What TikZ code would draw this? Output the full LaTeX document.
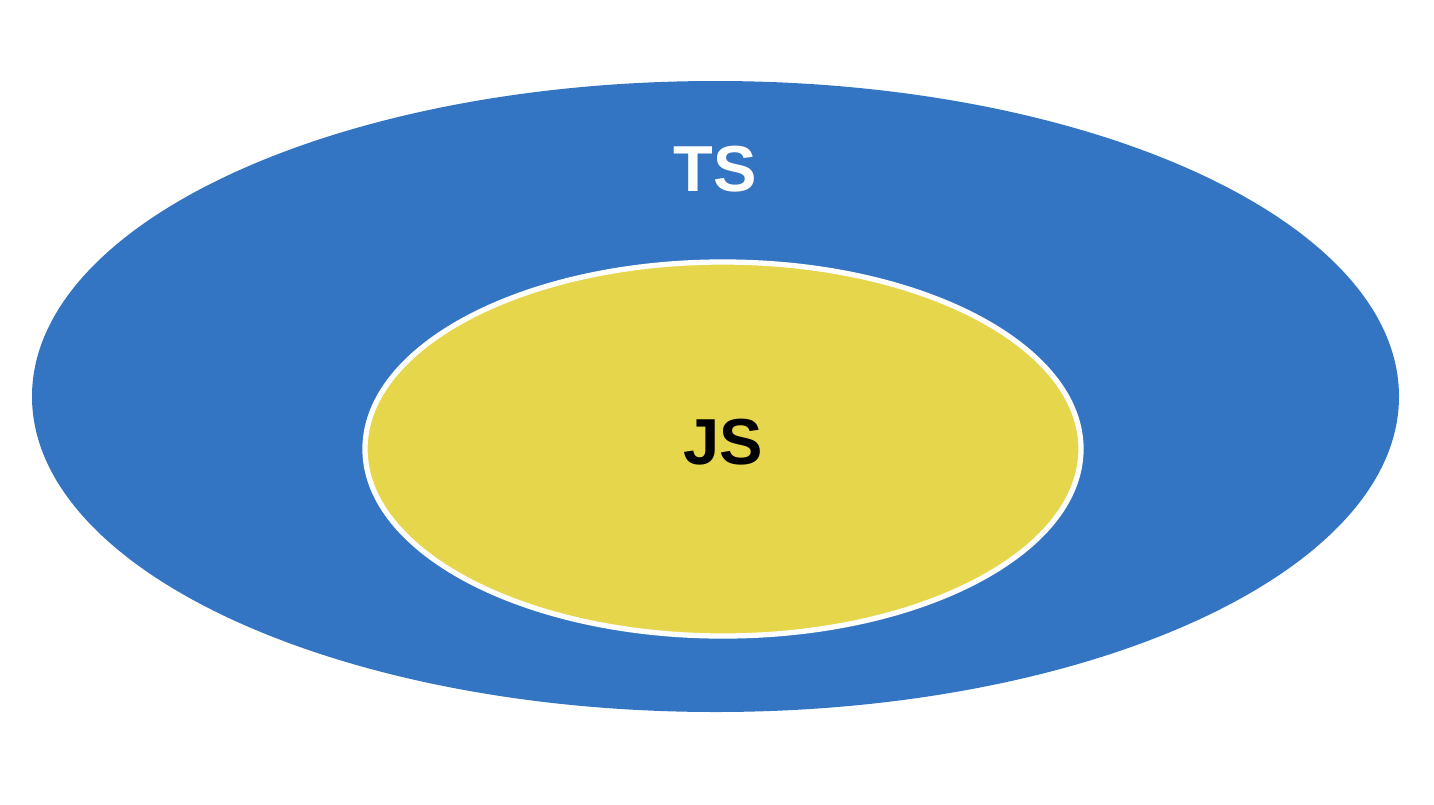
\documentclass[tikz,border=0pt]{standalone}
\usepackage{fontspec}
\setmainfont{Liberation Sans}
\usepackage{xcolor}
\definecolor{tsblue}{HTML}{3375C2}
\definecolor{jsyellow}{HTML}{E6D64C}
\usepackage{tikz}
\usetikzlibrary{positioning,shapes.geometric}
\tikzset{
  outerset/.style={ellipse,fill=tsblue,inner sep=0pt,minimum width=13.67cm,minimum height=6.31cm},
  innerset/.style={ellipse,draw=white,line width=1.5pt,fill=jsyellow,inner sep=0pt,minimum width=7.16cm,minimum height=3.74cm},
  setname/.style={font=\fontsize{18.5}{18.5}\selectfont\bfseries,inner sep=0pt}
}

\begin{document}
\begin{tikzpicture}
  % canvas
  \useasboundingbox (0,0) rectangle (14.34,8.04);

  % the two sets
  \node[outerset] (ts) at (7.155,4.075) {};
  \node[innerset] (js) at (7.23,3.55) {};

  % names
  \node[setname,text=white,below=0.65cm of ts.north] (tsname) {TS};
  \node[setname,text=black] (jsname) at ([yshift=0.07cm]js.center) {JS};
\end{tikzpicture}
\end{document}
